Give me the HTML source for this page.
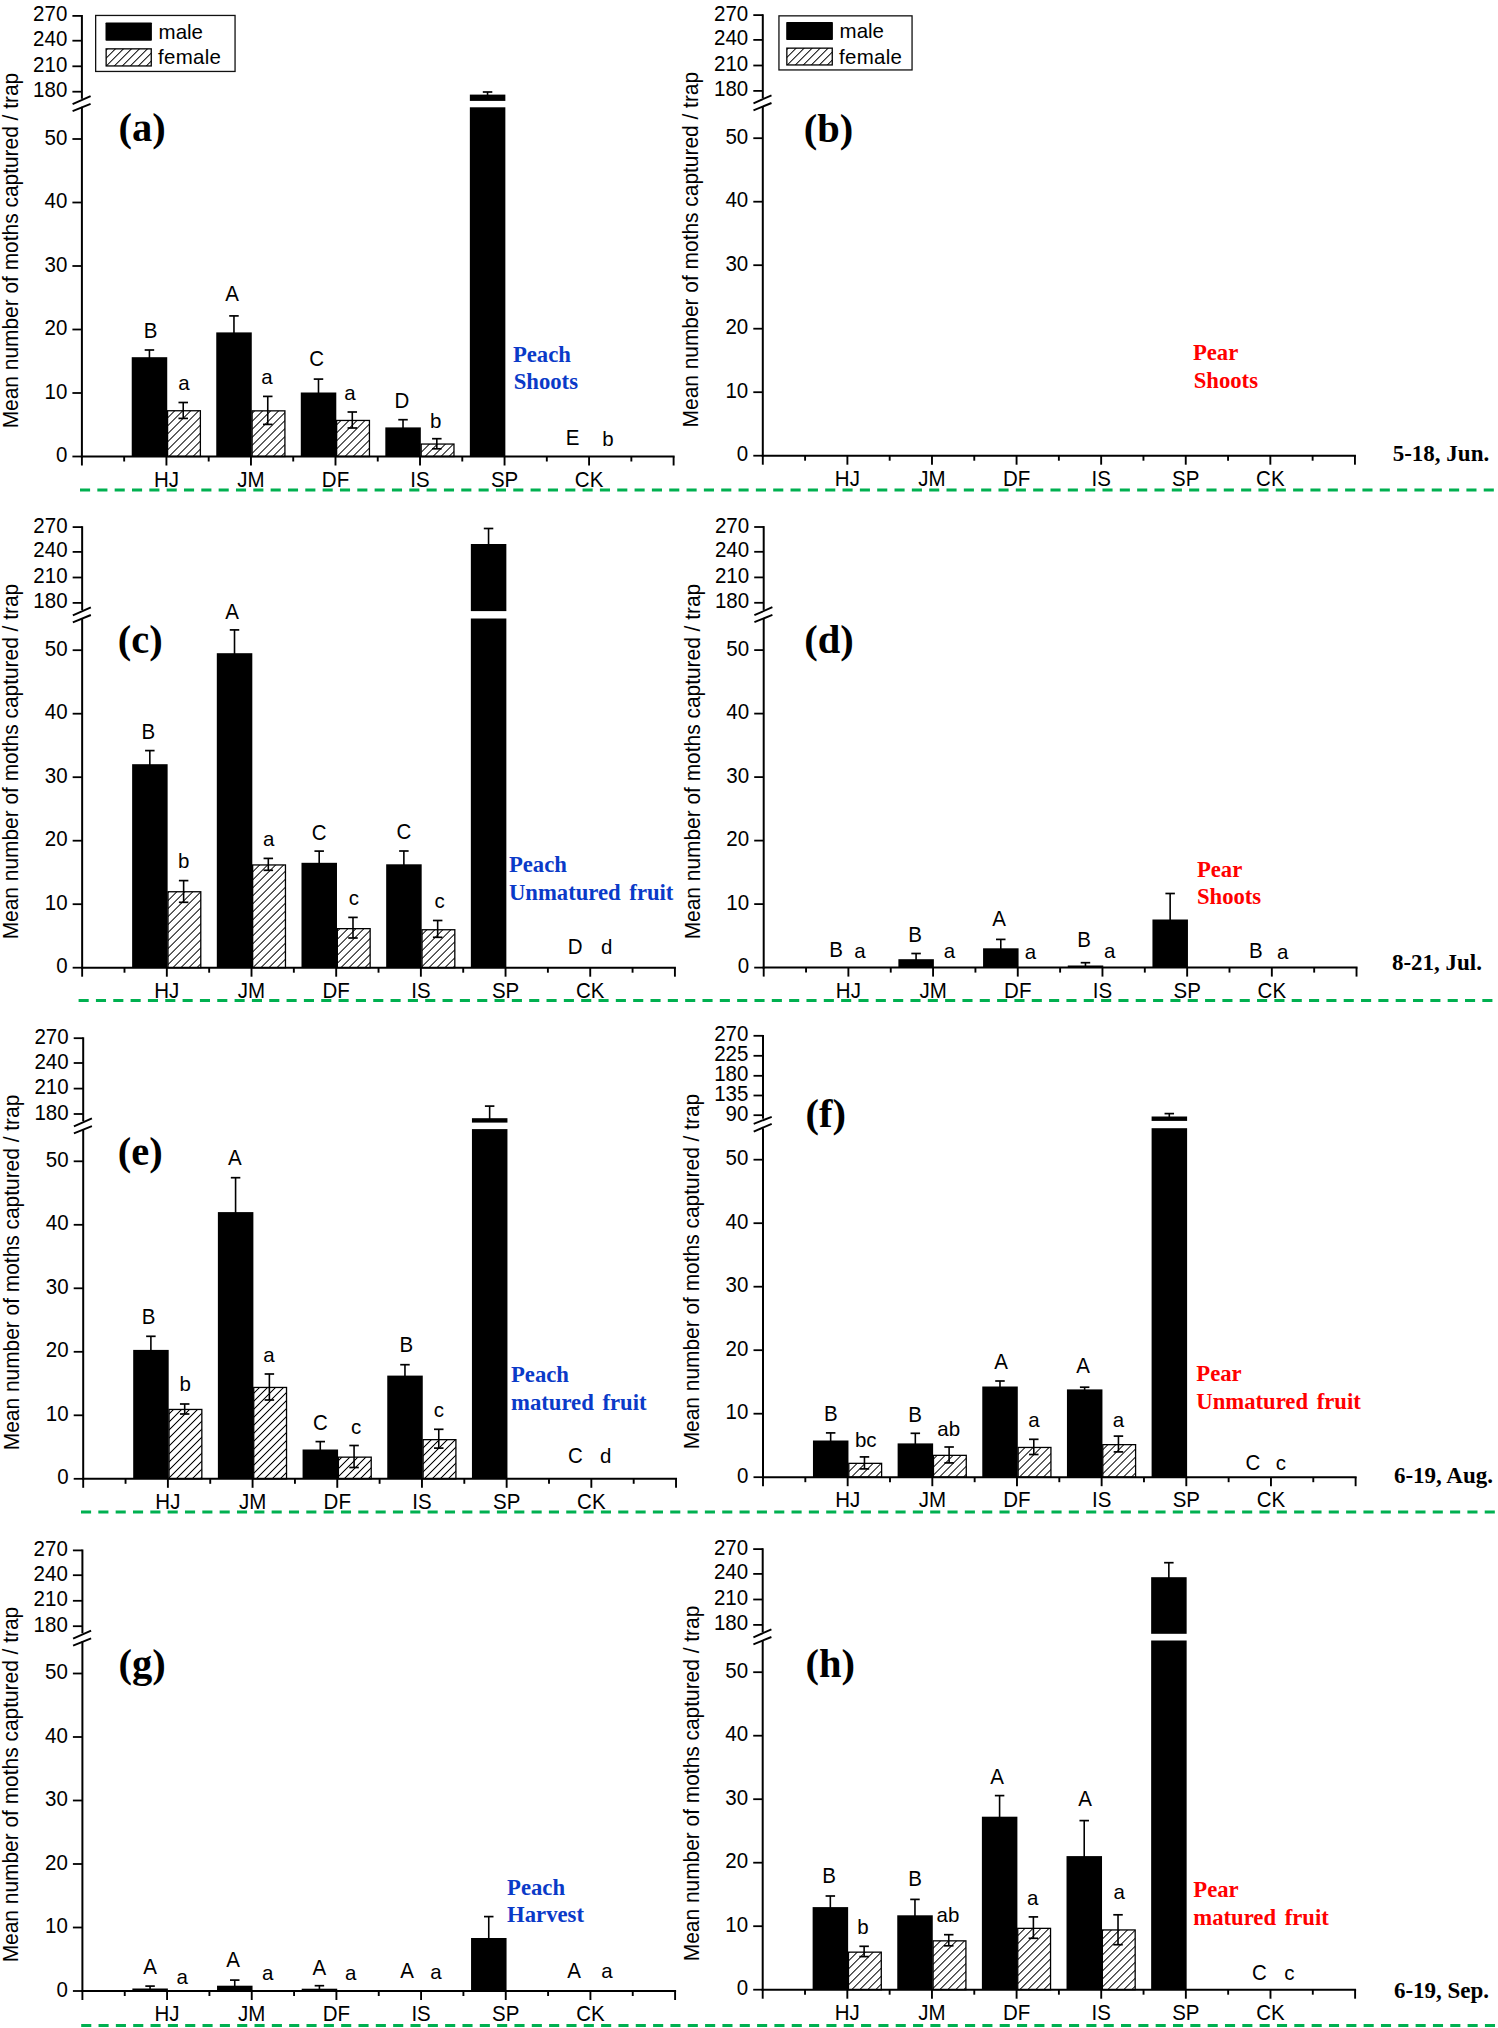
<!DOCTYPE html><html><head><meta charset="utf-8"><style>html,body{margin:0;padding:0;background:#fff;width:1498px;height:2028px;overflow:hidden}svg{display:block}.s{font-family:"Liberation Sans",sans-serif}.r{font-family:"Liberation Serif",serif}</style></head><body>
<svg width="1498" height="2028" viewBox="0 0 1498 2028">
<defs><pattern id="hatch" patternUnits="userSpaceOnUse" width="5.657" height="5.657" patternTransform="translate(0 0) rotate(45)"><line x1="0" y1="-1" x2="0" y2="6.657" stroke="#000" stroke-width="1.9"/></pattern><pattern id="ha" patternUnits="userSpaceOnUse" width="5.657" height="5.657" patternTransform="translate(0.8 0) rotate(45)"><line x1="0" y1="-1" x2="0" y2="6.657" stroke="#000" stroke-width="1.9"/></pattern><pattern id="hc" patternUnits="userSpaceOnUse" width="5.657" height="5.657" patternTransform="translate(3.9 0) rotate(45)"><line x1="0" y1="-1" x2="0" y2="6.657" stroke="#000" stroke-width="1.9"/></pattern><pattern id="he" patternUnits="userSpaceOnUse" width="5.657" height="5.657" patternTransform="translate(6.3 0) rotate(45)"><line x1="0" y1="-1" x2="0" y2="6.657" stroke="#000" stroke-width="1.9"/></pattern><pattern id="hf" patternUnits="userSpaceOnUse" width="5.657" height="5.657" patternTransform="translate(7.8 0) rotate(45)"><line x1="0" y1="-1" x2="0" y2="6.657" stroke="#000" stroke-width="1.9"/></pattern><pattern id="hh" patternUnits="userSpaceOnUse" width="5.657" height="5.657" patternTransform="translate(0.65 0) rotate(45)"><line x1="0" y1="-1" x2="0" y2="6.657" stroke="#000" stroke-width="1.9"/></pattern><pattern id="hl" patternUnits="userSpaceOnUse" width="5.657" height="5.657" patternTransform="translate(3.6 0) rotate(45)"><line x1="0" y1="-1" x2="0" y2="6.657" stroke="#000" stroke-width="1.9"/></pattern></defs>
<rect width="1498" height="2028" fill="#fff"/>
<line x1="81.9" y1="15" x2="81.9" y2="98.8" stroke="#000" stroke-width="2"/>
<line x1="81.9" y1="106.8" x2="81.9" y2="457.5" stroke="#000" stroke-width="2"/>
<line x1="72.6" y1="104.1" x2="90.6" y2="96.1" stroke="#000" stroke-width="1.9"/>
<line x1="72.6" y1="111.1" x2="90.6" y2="103.8" stroke="#000" stroke-width="1.9"/>
<line x1="72.4" y1="15.9" x2="81.9" y2="15.9" stroke="#000" stroke-width="1.8"/>
<text class="s" transform="translate(67.3 21.4) scale(1 1.04)" font-size="20.5" text-anchor="end" fill="#000">270</text>
<line x1="72.4" y1="40.7" x2="81.9" y2="40.7" stroke="#000" stroke-width="1.8"/>
<text class="s" transform="translate(67.3 46.2) scale(1 1.04)" font-size="20.5" text-anchor="end" fill="#000">240</text>
<line x1="72.4" y1="66.3" x2="81.9" y2="66.3" stroke="#000" stroke-width="1.8"/>
<text class="s" transform="translate(67.3 71.8) scale(1 1.04)" font-size="20.5" text-anchor="end" fill="#000">210</text>
<line x1="72.4" y1="91.7" x2="81.9" y2="91.7" stroke="#000" stroke-width="1.8"/>
<text class="s" transform="translate(67.3 97.2) scale(1 1.04)" font-size="20.5" text-anchor="end" fill="#000">180</text>
<line x1="72.4" y1="456.5" x2="81.9" y2="456.5" stroke="#000" stroke-width="1.8"/>
<text class="s" transform="translate(67.3 462) scale(1 1.04)" font-size="20.5" text-anchor="end" fill="#000">0</text>
<line x1="72.4" y1="393" x2="81.9" y2="393" stroke="#000" stroke-width="1.8"/>
<text class="s" transform="translate(67.3 398.5) scale(1 1.04)" font-size="20.5" text-anchor="end" fill="#000">10</text>
<line x1="72.4" y1="329.5" x2="81.9" y2="329.5" stroke="#000" stroke-width="1.8"/>
<text class="s" transform="translate(67.3 335) scale(1 1.04)" font-size="20.5" text-anchor="end" fill="#000">20</text>
<line x1="72.4" y1="266" x2="81.9" y2="266" stroke="#000" stroke-width="1.8"/>
<text class="s" transform="translate(67.3 271.5) scale(1 1.04)" font-size="20.5" text-anchor="end" fill="#000">30</text>
<line x1="72.4" y1="202.5" x2="81.9" y2="202.5" stroke="#000" stroke-width="1.8"/>
<text class="s" transform="translate(67.3 208) scale(1 1.04)" font-size="20.5" text-anchor="end" fill="#000">40</text>
<line x1="72.4" y1="139" x2="81.9" y2="139" stroke="#000" stroke-width="1.8"/>
<text class="s" transform="translate(67.3 144.5) scale(1 1.04)" font-size="20.5" text-anchor="end" fill="#000">50</text>
<line x1="80.9" y1="456.5" x2="674.61" y2="456.5" stroke="#000" stroke-width="2"/>
<line x1="81.9" y1="456.5" x2="81.9" y2="465.5" stroke="#000" stroke-width="1.9"/>
<line x1="166.43" y1="456.5" x2="166.43" y2="465.5" stroke="#000" stroke-width="1.9"/>
<line x1="250.96" y1="456.5" x2="250.96" y2="465.5" stroke="#000" stroke-width="1.9"/>
<line x1="335.49" y1="456.5" x2="335.49" y2="465.5" stroke="#000" stroke-width="1.9"/>
<line x1="420.02" y1="456.5" x2="420.02" y2="465.5" stroke="#000" stroke-width="1.9"/>
<line x1="504.55" y1="456.5" x2="504.55" y2="465.5" stroke="#000" stroke-width="1.9"/>
<line x1="589.08" y1="456.5" x2="589.08" y2="465.5" stroke="#000" stroke-width="1.9"/>
<line x1="673.61" y1="456.5" x2="673.61" y2="465.5" stroke="#000" stroke-width="1.9"/>
<line x1="124.17" y1="456.5" x2="124.17" y2="461.5" stroke="#000" stroke-width="1.9"/>
<line x1="208.69" y1="456.5" x2="208.69" y2="461.5" stroke="#000" stroke-width="1.9"/>
<line x1="293.23" y1="456.5" x2="293.23" y2="461.5" stroke="#000" stroke-width="1.9"/>
<line x1="377.75" y1="456.5" x2="377.75" y2="461.5" stroke="#000" stroke-width="1.9"/>
<line x1="462.28" y1="456.5" x2="462.28" y2="461.5" stroke="#000" stroke-width="1.9"/>
<line x1="546.82" y1="456.5" x2="546.82" y2="461.5" stroke="#000" stroke-width="1.9"/>
<line x1="631.35" y1="456.5" x2="631.35" y2="461.5" stroke="#000" stroke-width="1.9"/>
<text class="s" transform="translate(166.43 486.5) scale(1 1.04)" font-size="20.5" text-anchor="middle" fill="#000">HJ</text>
<text class="s" transform="translate(250.96 486.5) scale(1 1.04)" font-size="20.5" text-anchor="middle" fill="#000">JM</text>
<text class="s" transform="translate(335.49 486.5) scale(1 1.04)" font-size="20.5" text-anchor="middle" fill="#000">DF</text>
<text class="s" transform="translate(420.02 486.5) scale(1 1.04)" font-size="20.5" text-anchor="middle" fill="#000">IS</text>
<text class="s" transform="translate(504.55 486.5) scale(1 1.04)" font-size="20.5" text-anchor="middle" fill="#000">SP</text>
<text class="s" transform="translate(589.08 486.5) scale(1 1.04)" font-size="20.5" text-anchor="middle" fill="#000">CK</text>
<line x1="149.43" y1="350" x2="149.43" y2="358.2" stroke="#000" stroke-width="1.6"/>
<line x1="144.68" y1="350" x2="154.18" y2="350" stroke="#000" stroke-width="1.7"/>
<rect x="131.73" y="357.2" width="35.5" height="99.3" fill="#000"/>
<rect x="167.58" y="410.75" width="32.8" height="45.75" fill="url(#ha)" stroke="#000" stroke-width="1.3"/>
<line x1="183.23" y1="402.5" x2="183.23" y2="418.4" stroke="#000" stroke-width="1.6"/>
<line x1="178.48" y1="402.5" x2="187.98" y2="402.5" stroke="#000" stroke-width="1.7"/>
<line x1="178.48" y1="418.4" x2="187.98" y2="418.4" stroke="#000" stroke-width="1.7"/>
<line x1="233.96" y1="315.9" x2="233.96" y2="333.4" stroke="#000" stroke-width="1.6"/>
<line x1="229.21" y1="315.9" x2="238.71" y2="315.9" stroke="#000" stroke-width="1.7"/>
<rect x="216.26" y="332.4" width="35.5" height="124.1" fill="#000"/>
<rect x="252.11" y="410.85" width="32.8" height="45.65" fill="url(#ha)" stroke="#000" stroke-width="1.3"/>
<line x1="267.76" y1="396.4" x2="267.76" y2="424.4" stroke="#000" stroke-width="1.6"/>
<line x1="263.01" y1="396.4" x2="272.51" y2="396.4" stroke="#000" stroke-width="1.7"/>
<line x1="263.01" y1="424.4" x2="272.51" y2="424.4" stroke="#000" stroke-width="1.7"/>
<line x1="318.49" y1="379.1" x2="318.49" y2="393.5" stroke="#000" stroke-width="1.6"/>
<line x1="313.74" y1="379.1" x2="323.24" y2="379.1" stroke="#000" stroke-width="1.7"/>
<rect x="300.79" y="392.5" width="35.5" height="64" fill="#000"/>
<rect x="336.64" y="420.45" width="32.8" height="36.05" fill="url(#ha)" stroke="#000" stroke-width="1.3"/>
<line x1="352.29" y1="412" x2="352.29" y2="428" stroke="#000" stroke-width="1.6"/>
<line x1="347.54" y1="412" x2="357.04" y2="412" stroke="#000" stroke-width="1.7"/>
<line x1="347.54" y1="428" x2="357.04" y2="428" stroke="#000" stroke-width="1.7"/>
<line x1="403.02" y1="419.7" x2="403.02" y2="428.4" stroke="#000" stroke-width="1.6"/>
<line x1="398.27" y1="419.7" x2="407.77" y2="419.7" stroke="#000" stroke-width="1.7"/>
<rect x="385.32" y="427.4" width="35.5" height="29.1" fill="#000"/>
<rect x="421.17" y="444.05" width="32.8" height="12.45" fill="url(#ha)" stroke="#000" stroke-width="1.3"/>
<line x1="436.82" y1="438.7" x2="436.82" y2="448.8" stroke="#000" stroke-width="1.6"/>
<line x1="432.07" y1="438.7" x2="441.57" y2="438.7" stroke="#000" stroke-width="1.7"/>
<line x1="432.07" y1="448.8" x2="441.57" y2="448.8" stroke="#000" stroke-width="1.7"/>
<line x1="487.55" y1="92" x2="487.55" y2="95.6" stroke="#000" stroke-width="1.6"/>
<line x1="482.8" y1="92" x2="492.3" y2="92" stroke="#000" stroke-width="1.7"/>
<rect x="469.85" y="94.6" width="35.5" height="6.3" fill="#000"/>
<rect x="469.85" y="107.3" width="35.5" height="349.2" fill="#000"/>
<text class="s" transform="translate(150.5 337.9) scale(1 1.04)" font-size="20.5" text-anchor="middle" fill="#000">B</text>
<text class="s" transform="translate(183.9 390.3) scale(1 0.98)" font-size="20.5" text-anchor="middle" fill="#000">a</text>
<text class="s" transform="translate(232 301) scale(1 1.04)" font-size="20.5" text-anchor="middle" fill="#000">A</text>
<text class="s" transform="translate(266.9 383.5) scale(1 0.98)" font-size="20.5" text-anchor="middle" fill="#000">a</text>
<text class="s" transform="translate(316.6 365.5) scale(1 1.04)" font-size="20.5" text-anchor="middle" fill="#000">C</text>
<text class="s" transform="translate(350 400.3) scale(1 0.98)" font-size="20.5" text-anchor="middle" fill="#000">a</text>
<text class="s" transform="translate(402 407.7) scale(1 1.04)" font-size="20.5" text-anchor="middle" fill="#000">D</text>
<text class="s" transform="translate(435.6 428.3) scale(1 0.98)" font-size="20.5" text-anchor="middle" fill="#000">b</text>
<text class="s" transform="translate(572.5 445) scale(1 1.04)" font-size="20.5" text-anchor="middle" fill="#000">E</text>
<text class="s" transform="translate(608 445.6) scale(1 0.98)" font-size="20.5" text-anchor="middle" fill="#000">b</text>
<text class="r" x="512.9" y="361.9" font-size="22.7" text-anchor="start" fill="#0a3ac8" font-weight="bold" word-spacing="3">Peach</text>
<text class="r" x="513.7" y="389.1" font-size="22.7" text-anchor="start" fill="#0a3ac8" font-weight="bold" word-spacing="3">Shoots</text>
<text class="r" x="118.4" y="141.4" font-size="40.5" text-anchor="start" fill="#000" font-weight="bold">(a)</text>
<text class="s" font-size="20.8" text-anchor="middle" transform="translate(17.9 250.55) rotate(-90) scale(1 1.02)" textLength="355.5" lengthAdjust="spacingAndGlyphs">Mean number of moths captured / trap</text>
<line x1="762.8" y1="14.2" x2="762.8" y2="98" stroke="#000" stroke-width="2"/>
<line x1="762.8" y1="106" x2="762.8" y2="456.7" stroke="#000" stroke-width="2"/>
<line x1="753.5" y1="103.3" x2="771.5" y2="95.3" stroke="#000" stroke-width="1.9"/>
<line x1="753.5" y1="110.3" x2="771.5" y2="103" stroke="#000" stroke-width="1.9"/>
<line x1="753.3" y1="15.1" x2="762.8" y2="15.1" stroke="#000" stroke-width="1.8"/>
<text class="s" transform="translate(748.2 20.6) scale(1 1.04)" font-size="20.5" text-anchor="end" fill="#000">270</text>
<line x1="753.3" y1="39.9" x2="762.8" y2="39.9" stroke="#000" stroke-width="1.8"/>
<text class="s" transform="translate(748.2 45.4) scale(1 1.04)" font-size="20.5" text-anchor="end" fill="#000">240</text>
<line x1="753.3" y1="65.5" x2="762.8" y2="65.5" stroke="#000" stroke-width="1.8"/>
<text class="s" transform="translate(748.2 71) scale(1 1.04)" font-size="20.5" text-anchor="end" fill="#000">210</text>
<line x1="753.3" y1="90.9" x2="762.8" y2="90.9" stroke="#000" stroke-width="1.8"/>
<text class="s" transform="translate(748.2 96.4) scale(1 1.04)" font-size="20.5" text-anchor="end" fill="#000">180</text>
<line x1="753.3" y1="455.7" x2="762.8" y2="455.7" stroke="#000" stroke-width="1.8"/>
<text class="s" transform="translate(748.2 461.2) scale(1 1.04)" font-size="20.5" text-anchor="end" fill="#000">0</text>
<line x1="753.3" y1="392.2" x2="762.8" y2="392.2" stroke="#000" stroke-width="1.8"/>
<text class="s" transform="translate(748.2 397.7) scale(1 1.04)" font-size="20.5" text-anchor="end" fill="#000">10</text>
<line x1="753.3" y1="328.7" x2="762.8" y2="328.7" stroke="#000" stroke-width="1.8"/>
<text class="s" transform="translate(748.2 334.2) scale(1 1.04)" font-size="20.5" text-anchor="end" fill="#000">20</text>
<line x1="753.3" y1="265.2" x2="762.8" y2="265.2" stroke="#000" stroke-width="1.8"/>
<text class="s" transform="translate(748.2 270.7) scale(1 1.04)" font-size="20.5" text-anchor="end" fill="#000">30</text>
<line x1="753.3" y1="201.7" x2="762.8" y2="201.7" stroke="#000" stroke-width="1.8"/>
<text class="s" transform="translate(748.2 207.2) scale(1 1.04)" font-size="20.5" text-anchor="end" fill="#000">40</text>
<line x1="753.3" y1="138.2" x2="762.8" y2="138.2" stroke="#000" stroke-width="1.8"/>
<text class="s" transform="translate(748.2 143.7) scale(1 1.04)" font-size="20.5" text-anchor="end" fill="#000">50</text>
<line x1="761.8" y1="455.7" x2="1355.93" y2="455.7" stroke="#000" stroke-width="2"/>
<line x1="762.8" y1="455.7" x2="762.8" y2="464.7" stroke="#000" stroke-width="1.9"/>
<line x1="847.39" y1="455.7" x2="847.39" y2="464.7" stroke="#000" stroke-width="1.9"/>
<line x1="931.98" y1="455.7" x2="931.98" y2="464.7" stroke="#000" stroke-width="1.9"/>
<line x1="1016.57" y1="455.7" x2="1016.57" y2="464.7" stroke="#000" stroke-width="1.9"/>
<line x1="1101.16" y1="455.7" x2="1101.16" y2="464.7" stroke="#000" stroke-width="1.9"/>
<line x1="1185.75" y1="455.7" x2="1185.75" y2="464.7" stroke="#000" stroke-width="1.9"/>
<line x1="1270.34" y1="455.7" x2="1270.34" y2="464.7" stroke="#000" stroke-width="1.9"/>
<line x1="1354.93" y1="455.7" x2="1354.93" y2="464.7" stroke="#000" stroke-width="1.9"/>
<line x1="805.09" y1="455.7" x2="805.09" y2="460.7" stroke="#000" stroke-width="1.9"/>
<line x1="889.68" y1="455.7" x2="889.68" y2="460.7" stroke="#000" stroke-width="1.9"/>
<line x1="974.27" y1="455.7" x2="974.27" y2="460.7" stroke="#000" stroke-width="1.9"/>
<line x1="1058.87" y1="455.7" x2="1058.87" y2="460.7" stroke="#000" stroke-width="1.9"/>
<line x1="1143.45" y1="455.7" x2="1143.45" y2="460.7" stroke="#000" stroke-width="1.9"/>
<line x1="1228.05" y1="455.7" x2="1228.05" y2="460.7" stroke="#000" stroke-width="1.9"/>
<line x1="1312.63" y1="455.7" x2="1312.63" y2="460.7" stroke="#000" stroke-width="1.9"/>
<text class="s" transform="translate(847.39 485.7) scale(1 1.04)" font-size="20.5" text-anchor="middle" fill="#000">HJ</text>
<text class="s" transform="translate(931.98 485.7) scale(1 1.04)" font-size="20.5" text-anchor="middle" fill="#000">JM</text>
<text class="s" transform="translate(1016.57 485.7) scale(1 1.04)" font-size="20.5" text-anchor="middle" fill="#000">DF</text>
<text class="s" transform="translate(1101.16 485.7) scale(1 1.04)" font-size="20.5" text-anchor="middle" fill="#000">IS</text>
<text class="s" transform="translate(1185.75 485.7) scale(1 1.04)" font-size="20.5" text-anchor="middle" fill="#000">SP</text>
<text class="s" transform="translate(1270.34 485.7) scale(1 1.04)" font-size="20.5" text-anchor="middle" fill="#000">CK</text>
<text class="r" x="1192.9" y="360" font-size="22.7" text-anchor="start" fill="#ff0000" font-weight="bold" word-spacing="3">Pear</text>
<text class="r" x="1193.7" y="388.1" font-size="22.7" text-anchor="start" fill="#ff0000" font-weight="bold" word-spacing="3">Shoots</text>
<text class="r" x="803.8" y="142.3" font-size="40.5" text-anchor="start" fill="#000" font-weight="bold">(b)</text>
<text class="s" font-size="20.8" text-anchor="middle" transform="translate(698 249.65) rotate(-90) scale(1 1.02)" textLength="355.5" lengthAdjust="spacingAndGlyphs">Mean number of moths captured / trap</text>
<line x1="82.15" y1="526.2" x2="82.15" y2="610" stroke="#000" stroke-width="2"/>
<line x1="82.15" y1="618" x2="82.15" y2="968.7" stroke="#000" stroke-width="2"/>
<line x1="72.85" y1="615.3" x2="90.85" y2="607.3" stroke="#000" stroke-width="1.9"/>
<line x1="72.85" y1="622.3" x2="90.85" y2="615" stroke="#000" stroke-width="1.9"/>
<line x1="72.65" y1="527.1" x2="82.15" y2="527.1" stroke="#000" stroke-width="1.8"/>
<text class="s" transform="translate(67.55 532.6) scale(1 1.04)" font-size="20.5" text-anchor="end" fill="#000">270</text>
<line x1="72.65" y1="551.9" x2="82.15" y2="551.9" stroke="#000" stroke-width="1.8"/>
<text class="s" transform="translate(67.55 557.4) scale(1 1.04)" font-size="20.5" text-anchor="end" fill="#000">240</text>
<line x1="72.65" y1="577.5" x2="82.15" y2="577.5" stroke="#000" stroke-width="1.8"/>
<text class="s" transform="translate(67.55 583) scale(1 1.04)" font-size="20.5" text-anchor="end" fill="#000">210</text>
<line x1="72.65" y1="602.9" x2="82.15" y2="602.9" stroke="#000" stroke-width="1.8"/>
<text class="s" transform="translate(67.55 608.4) scale(1 1.04)" font-size="20.5" text-anchor="end" fill="#000">180</text>
<line x1="72.65" y1="967.7" x2="82.15" y2="967.7" stroke="#000" stroke-width="1.8"/>
<text class="s" transform="translate(67.55 973.2) scale(1 1.04)" font-size="20.5" text-anchor="end" fill="#000">0</text>
<line x1="72.65" y1="904.2" x2="82.15" y2="904.2" stroke="#000" stroke-width="1.8"/>
<text class="s" transform="translate(67.55 909.7) scale(1 1.04)" font-size="20.5" text-anchor="end" fill="#000">10</text>
<line x1="72.65" y1="840.7" x2="82.15" y2="840.7" stroke="#000" stroke-width="1.8"/>
<text class="s" transform="translate(67.55 846.2) scale(1 1.04)" font-size="20.5" text-anchor="end" fill="#000">20</text>
<line x1="72.65" y1="777.2" x2="82.15" y2="777.2" stroke="#000" stroke-width="1.8"/>
<text class="s" transform="translate(67.55 782.7) scale(1 1.04)" font-size="20.5" text-anchor="end" fill="#000">30</text>
<line x1="72.65" y1="713.7" x2="82.15" y2="713.7" stroke="#000" stroke-width="1.8"/>
<text class="s" transform="translate(67.55 719.2) scale(1 1.04)" font-size="20.5" text-anchor="end" fill="#000">40</text>
<line x1="72.65" y1="650.2" x2="82.15" y2="650.2" stroke="#000" stroke-width="1.8"/>
<text class="s" transform="translate(67.55 655.7) scale(1 1.04)" font-size="20.5" text-anchor="end" fill="#000">50</text>
<line x1="81.15" y1="967.7" x2="675.91" y2="967.7" stroke="#000" stroke-width="2"/>
<line x1="82.15" y1="967.7" x2="82.15" y2="976.7" stroke="#000" stroke-width="1.9"/>
<line x1="166.83" y1="967.7" x2="166.83" y2="976.7" stroke="#000" stroke-width="1.9"/>
<line x1="251.51" y1="967.7" x2="251.51" y2="976.7" stroke="#000" stroke-width="1.9"/>
<line x1="336.19" y1="967.7" x2="336.19" y2="976.7" stroke="#000" stroke-width="1.9"/>
<line x1="420.87" y1="967.7" x2="420.87" y2="976.7" stroke="#000" stroke-width="1.9"/>
<line x1="505.55" y1="967.7" x2="505.55" y2="976.7" stroke="#000" stroke-width="1.9"/>
<line x1="590.23" y1="967.7" x2="590.23" y2="976.7" stroke="#000" stroke-width="1.9"/>
<line x1="674.91" y1="967.7" x2="674.91" y2="976.7" stroke="#000" stroke-width="1.9"/>
<line x1="124.49" y1="967.7" x2="124.49" y2="972.7" stroke="#000" stroke-width="1.9"/>
<line x1="209.17" y1="967.7" x2="209.17" y2="972.7" stroke="#000" stroke-width="1.9"/>
<line x1="293.85" y1="967.7" x2="293.85" y2="972.7" stroke="#000" stroke-width="1.9"/>
<line x1="378.53" y1="967.7" x2="378.53" y2="972.7" stroke="#000" stroke-width="1.9"/>
<line x1="463.21" y1="967.7" x2="463.21" y2="972.7" stroke="#000" stroke-width="1.9"/>
<line x1="547.89" y1="967.7" x2="547.89" y2="972.7" stroke="#000" stroke-width="1.9"/>
<line x1="632.57" y1="967.7" x2="632.57" y2="972.7" stroke="#000" stroke-width="1.9"/>
<text class="s" transform="translate(166.83 997.7) scale(1 1.04)" font-size="20.5" text-anchor="middle" fill="#000">HJ</text>
<text class="s" transform="translate(251.51 997.7) scale(1 1.04)" font-size="20.5" text-anchor="middle" fill="#000">JM</text>
<text class="s" transform="translate(336.19 997.7) scale(1 1.04)" font-size="20.5" text-anchor="middle" fill="#000">DF</text>
<text class="s" transform="translate(420.87 997.7) scale(1 1.04)" font-size="20.5" text-anchor="middle" fill="#000">IS</text>
<text class="s" transform="translate(505.55 997.7) scale(1 1.04)" font-size="20.5" text-anchor="middle" fill="#000">SP</text>
<text class="s" transform="translate(590.23 997.7) scale(1 1.04)" font-size="20.5" text-anchor="middle" fill="#000">CK</text>
<line x1="149.83" y1="750.6" x2="149.83" y2="765.2" stroke="#000" stroke-width="1.6"/>
<line x1="145.08" y1="750.6" x2="154.58" y2="750.6" stroke="#000" stroke-width="1.7"/>
<rect x="132.13" y="764.2" width="35.5" height="203.5" fill="#000"/>
<rect x="167.98" y="891.75" width="32.8" height="75.95" fill="url(#hc)" stroke="#000" stroke-width="1.3"/>
<line x1="183.63" y1="880.6" x2="183.63" y2="902.3" stroke="#000" stroke-width="1.6"/>
<line x1="178.88" y1="880.6" x2="188.38" y2="880.6" stroke="#000" stroke-width="1.7"/>
<line x1="178.88" y1="902.3" x2="188.38" y2="902.3" stroke="#000" stroke-width="1.7"/>
<line x1="234.51" y1="629.9" x2="234.51" y2="654.2" stroke="#000" stroke-width="1.6"/>
<line x1="229.76" y1="629.9" x2="239.26" y2="629.9" stroke="#000" stroke-width="1.7"/>
<rect x="216.81" y="653.2" width="35.5" height="314.5" fill="#000"/>
<rect x="252.66" y="864.95" width="32.8" height="102.75" fill="url(#hc)" stroke="#000" stroke-width="1.3"/>
<line x1="268.31" y1="858.4" x2="268.31" y2="870.3" stroke="#000" stroke-width="1.6"/>
<line x1="263.56" y1="858.4" x2="273.06" y2="858.4" stroke="#000" stroke-width="1.7"/>
<line x1="263.56" y1="870.3" x2="273.06" y2="870.3" stroke="#000" stroke-width="1.7"/>
<line x1="319.19" y1="851.1" x2="319.19" y2="863.8" stroke="#000" stroke-width="1.6"/>
<line x1="314.44" y1="851.1" x2="323.94" y2="851.1" stroke="#000" stroke-width="1.7"/>
<rect x="301.49" y="862.8" width="35.5" height="104.9" fill="#000"/>
<rect x="337.34" y="928.65" width="32.8" height="39.05" fill="url(#hc)" stroke="#000" stroke-width="1.3"/>
<line x1="352.99" y1="917.4" x2="352.99" y2="938" stroke="#000" stroke-width="1.6"/>
<line x1="348.24" y1="917.4" x2="357.74" y2="917.4" stroke="#000" stroke-width="1.7"/>
<line x1="348.24" y1="938" x2="357.74" y2="938" stroke="#000" stroke-width="1.7"/>
<line x1="403.87" y1="851" x2="403.87" y2="865.3" stroke="#000" stroke-width="1.6"/>
<line x1="399.12" y1="851" x2="408.62" y2="851" stroke="#000" stroke-width="1.7"/>
<rect x="386.17" y="864.3" width="35.5" height="103.4" fill="#000"/>
<rect x="422.02" y="929.75" width="32.8" height="37.95" fill="url(#hc)" stroke="#000" stroke-width="1.3"/>
<line x1="437.67" y1="920.5" x2="437.67" y2="937.3" stroke="#000" stroke-width="1.6"/>
<line x1="432.92" y1="920.5" x2="442.42" y2="920.5" stroke="#000" stroke-width="1.7"/>
<line x1="432.92" y1="937.3" x2="442.42" y2="937.3" stroke="#000" stroke-width="1.7"/>
<line x1="488.55" y1="528.5" x2="488.55" y2="545" stroke="#000" stroke-width="1.6"/>
<line x1="483.8" y1="528.5" x2="493.3" y2="528.5" stroke="#000" stroke-width="1.7"/>
<rect x="470.85" y="544" width="35.5" height="67.1" fill="#000"/>
<rect x="470.85" y="618.5" width="35.5" height="349.2" fill="#000"/>
<text class="s" transform="translate(148.3 739.1) scale(1 1.04)" font-size="20.5" text-anchor="middle" fill="#000">B</text>
<text class="s" transform="translate(183.7 868.1) scale(1 0.98)" font-size="20.5" text-anchor="middle" fill="#000">b</text>
<text class="s" transform="translate(232 619.2) scale(1 1.04)" font-size="20.5" text-anchor="middle" fill="#000">A</text>
<text class="s" transform="translate(268.6 846.3) scale(1 0.98)" font-size="20.5" text-anchor="middle" fill="#000">a</text>
<text class="s" transform="translate(319.1 839.6) scale(1 1.04)" font-size="20.5" text-anchor="middle" fill="#000">C</text>
<text class="s" transform="translate(353.9 904.9) scale(1 0.98)" font-size="20.5" text-anchor="middle" fill="#000">c</text>
<text class="s" transform="translate(403.8 839.1) scale(1 1.04)" font-size="20.5" text-anchor="middle" fill="#000">C</text>
<text class="s" transform="translate(439.5 908.3) scale(1 0.98)" font-size="20.5" text-anchor="middle" fill="#000">c</text>
<text class="s" transform="translate(575.1 953.8) scale(1 1.04)" font-size="20.5" text-anchor="middle" fill="#000">D</text>
<text class="s" transform="translate(606.7 954.4) scale(1 0.98)" font-size="20.5" text-anchor="middle" fill="#000">d</text>
<text class="r" x="508.9" y="872.4" font-size="22.7" text-anchor="start" fill="#0a3ac8" font-weight="bold" word-spacing="3">Peach</text>
<text class="r" x="508.9" y="899.5" font-size="22.7" text-anchor="start" fill="#0a3ac8" font-weight="bold" word-spacing="3">Unmatured fruit</text>
<text class="r" x="117.8" y="652.8" font-size="40.5" text-anchor="start" fill="#000" font-weight="bold">(c)</text>
<text class="s" font-size="20.8" text-anchor="middle" transform="translate(17.9 761.55) rotate(-90) scale(1 1.02)" textLength="355.5" lengthAdjust="spacingAndGlyphs">Mean number of moths captured / trap</text>
<line x1="763.7" y1="526.1" x2="763.7" y2="609.9" stroke="#000" stroke-width="2"/>
<line x1="763.7" y1="617.9" x2="763.7" y2="968.6" stroke="#000" stroke-width="2"/>
<line x1="754.4" y1="615.2" x2="772.4" y2="607.2" stroke="#000" stroke-width="1.9"/>
<line x1="754.4" y1="622.2" x2="772.4" y2="614.9" stroke="#000" stroke-width="1.9"/>
<line x1="754.2" y1="527" x2="763.7" y2="527" stroke="#000" stroke-width="1.8"/>
<text class="s" transform="translate(749.1 532.5) scale(1 1.04)" font-size="20.5" text-anchor="end" fill="#000">270</text>
<line x1="754.2" y1="551.8" x2="763.7" y2="551.8" stroke="#000" stroke-width="1.8"/>
<text class="s" transform="translate(749.1 557.3) scale(1 1.04)" font-size="20.5" text-anchor="end" fill="#000">240</text>
<line x1="754.2" y1="577.4" x2="763.7" y2="577.4" stroke="#000" stroke-width="1.8"/>
<text class="s" transform="translate(749.1 582.9) scale(1 1.04)" font-size="20.5" text-anchor="end" fill="#000">210</text>
<line x1="754.2" y1="602.8" x2="763.7" y2="602.8" stroke="#000" stroke-width="1.8"/>
<text class="s" transform="translate(749.1 608.3) scale(1 1.04)" font-size="20.5" text-anchor="end" fill="#000">180</text>
<line x1="754.2" y1="967.6" x2="763.7" y2="967.6" stroke="#000" stroke-width="1.8"/>
<text class="s" transform="translate(749.1 973.1) scale(1 1.04)" font-size="20.5" text-anchor="end" fill="#000">0</text>
<line x1="754.2" y1="904.1" x2="763.7" y2="904.1" stroke="#000" stroke-width="1.8"/>
<text class="s" transform="translate(749.1 909.6) scale(1 1.04)" font-size="20.5" text-anchor="end" fill="#000">10</text>
<line x1="754.2" y1="840.6" x2="763.7" y2="840.6" stroke="#000" stroke-width="1.8"/>
<text class="s" transform="translate(749.1 846.1) scale(1 1.04)" font-size="20.5" text-anchor="end" fill="#000">20</text>
<line x1="754.2" y1="777.1" x2="763.7" y2="777.1" stroke="#000" stroke-width="1.8"/>
<text class="s" transform="translate(749.1 782.6) scale(1 1.04)" font-size="20.5" text-anchor="end" fill="#000">30</text>
<line x1="754.2" y1="713.6" x2="763.7" y2="713.6" stroke="#000" stroke-width="1.8"/>
<text class="s" transform="translate(749.1 719.1) scale(1 1.04)" font-size="20.5" text-anchor="end" fill="#000">40</text>
<line x1="754.2" y1="650.1" x2="763.7" y2="650.1" stroke="#000" stroke-width="1.8"/>
<text class="s" transform="translate(749.1 655.6) scale(1 1.04)" font-size="20.5" text-anchor="end" fill="#000">50</text>
<line x1="762.7" y1="967.6" x2="1357.53" y2="967.6" stroke="#000" stroke-width="2"/>
<line x1="763.7" y1="967.6" x2="763.7" y2="976.6" stroke="#000" stroke-width="1.9"/>
<line x1="848.39" y1="967.6" x2="848.39" y2="976.6" stroke="#000" stroke-width="1.9"/>
<line x1="933.08" y1="967.6" x2="933.08" y2="976.6" stroke="#000" stroke-width="1.9"/>
<line x1="1017.77" y1="967.6" x2="1017.77" y2="976.6" stroke="#000" stroke-width="1.9"/>
<line x1="1102.46" y1="967.6" x2="1102.46" y2="976.6" stroke="#000" stroke-width="1.9"/>
<line x1="1187.15" y1="967.6" x2="1187.15" y2="976.6" stroke="#000" stroke-width="1.9"/>
<line x1="1271.84" y1="967.6" x2="1271.84" y2="976.6" stroke="#000" stroke-width="1.9"/>
<line x1="1356.53" y1="967.6" x2="1356.53" y2="976.6" stroke="#000" stroke-width="1.9"/>
<line x1="806.05" y1="967.6" x2="806.05" y2="972.6" stroke="#000" stroke-width="1.9"/>
<line x1="890.74" y1="967.6" x2="890.74" y2="972.6" stroke="#000" stroke-width="1.9"/>
<line x1="975.43" y1="967.6" x2="975.43" y2="972.6" stroke="#000" stroke-width="1.9"/>
<line x1="1060.12" y1="967.6" x2="1060.12" y2="972.6" stroke="#000" stroke-width="1.9"/>
<line x1="1144.81" y1="967.6" x2="1144.81" y2="972.6" stroke="#000" stroke-width="1.9"/>
<line x1="1229.49" y1="967.6" x2="1229.49" y2="972.6" stroke="#000" stroke-width="1.9"/>
<line x1="1314.18" y1="967.6" x2="1314.18" y2="972.6" stroke="#000" stroke-width="1.9"/>
<text class="s" transform="translate(848.39 997.6) scale(1 1.04)" font-size="20.5" text-anchor="middle" fill="#000">HJ</text>
<text class="s" transform="translate(933.08 997.6) scale(1 1.04)" font-size="20.5" text-anchor="middle" fill="#000">JM</text>
<text class="s" transform="translate(1017.77 997.6) scale(1 1.04)" font-size="20.5" text-anchor="middle" fill="#000">DF</text>
<text class="s" transform="translate(1102.46 997.6) scale(1 1.04)" font-size="20.5" text-anchor="middle" fill="#000">IS</text>
<text class="s" transform="translate(1187.15 997.6) scale(1 1.04)" font-size="20.5" text-anchor="middle" fill="#000">SP</text>
<text class="s" transform="translate(1271.84 997.6) scale(1 1.04)" font-size="20.5" text-anchor="middle" fill="#000">CK</text>
<line x1="916.08" y1="953.5" x2="916.08" y2="960.2" stroke="#000" stroke-width="1.6"/>
<line x1="911.33" y1="953.5" x2="920.83" y2="953.5" stroke="#000" stroke-width="1.7"/>
<rect x="898.38" y="959.2" width="35.5" height="8.4" fill="#000"/>
<line x1="1000.77" y1="939.4" x2="1000.77" y2="949.3" stroke="#000" stroke-width="1.6"/>
<line x1="996.02" y1="939.4" x2="1005.52" y2="939.4" stroke="#000" stroke-width="1.7"/>
<rect x="983.07" y="948.3" width="35.5" height="19.3" fill="#000"/>
<line x1="1085.46" y1="962.7" x2="1085.46" y2="966.5" stroke="#000" stroke-width="1.6"/>
<line x1="1080.71" y1="962.7" x2="1090.21" y2="962.7" stroke="#000" stroke-width="1.7"/>
<rect x="1067.76" y="965.5" width="35.5" height="2.1" fill="#000"/>
<line x1="1170.15" y1="893.5" x2="1170.15" y2="920.5" stroke="#000" stroke-width="1.6"/>
<line x1="1165.4" y1="893.5" x2="1174.9" y2="893.5" stroke="#000" stroke-width="1.7"/>
<rect x="1152.45" y="919.5" width="35.5" height="48.1" fill="#000"/>
<text class="s" transform="translate(836 956.9) scale(1 1.04)" font-size="20.5" text-anchor="middle" fill="#000">B</text>
<text class="s" transform="translate(859.9 957.5) scale(1 0.98)" font-size="20.5" text-anchor="middle" fill="#000">a</text>
<text class="s" transform="translate(915 942.1) scale(1 1.04)" font-size="20.5" text-anchor="middle" fill="#000">B</text>
<text class="s" transform="translate(949.5 958.2) scale(1 0.98)" font-size="20.5" text-anchor="middle" fill="#000">a</text>
<text class="s" transform="translate(999 925.8) scale(1 1.04)" font-size="20.5" text-anchor="middle" fill="#000">A</text>
<text class="s" transform="translate(1030.5 959.1) scale(1 0.98)" font-size="20.5" text-anchor="middle" fill="#000">a</text>
<text class="s" transform="translate(1084 946.7) scale(1 1.04)" font-size="20.5" text-anchor="middle" fill="#000">B</text>
<text class="s" transform="translate(1109.7 957.6) scale(1 0.98)" font-size="20.5" text-anchor="middle" fill="#000">a</text>
<text class="s" transform="translate(1255.9 958.4) scale(1 1.04)" font-size="20.5" text-anchor="middle" fill="#000">B</text>
<text class="s" transform="translate(1282.8 959) scale(1 0.98)" font-size="20.5" text-anchor="middle" fill="#000">a</text>
<text class="r" x="1196.9" y="876.5" font-size="22.7" text-anchor="start" fill="#ff0000" font-weight="bold" word-spacing="3">Pear</text>
<text class="r" x="1196.9" y="903.5" font-size="22.7" text-anchor="start" fill="#ff0000" font-weight="bold" word-spacing="3">Shoots</text>
<text class="r" x="804.3" y="652.6" font-size="40.5" text-anchor="start" fill="#000" font-weight="bold">(d)</text>
<text class="s" font-size="20.8" text-anchor="middle" transform="translate(700 761.55) rotate(-90) scale(1 1.02)" textLength="355.5" lengthAdjust="spacingAndGlyphs">Mean number of moths captured / trap</text>
<line x1="83.2" y1="1037.3" x2="83.2" y2="1121.1" stroke="#000" stroke-width="2"/>
<line x1="83.2" y1="1129.1" x2="83.2" y2="1479.8" stroke="#000" stroke-width="2"/>
<line x1="73.9" y1="1126.4" x2="91.9" y2="1118.4" stroke="#000" stroke-width="1.9"/>
<line x1="73.9" y1="1133.4" x2="91.9" y2="1126.1" stroke="#000" stroke-width="1.9"/>
<line x1="73.7" y1="1038.2" x2="83.2" y2="1038.2" stroke="#000" stroke-width="1.8"/>
<text class="s" transform="translate(68.6 1043.7) scale(1 1.04)" font-size="20.5" text-anchor="end" fill="#000">270</text>
<line x1="73.7" y1="1063" x2="83.2" y2="1063" stroke="#000" stroke-width="1.8"/>
<text class="s" transform="translate(68.6 1068.5) scale(1 1.04)" font-size="20.5" text-anchor="end" fill="#000">240</text>
<line x1="73.7" y1="1088.6" x2="83.2" y2="1088.6" stroke="#000" stroke-width="1.8"/>
<text class="s" transform="translate(68.6 1094.1) scale(1 1.04)" font-size="20.5" text-anchor="end" fill="#000">210</text>
<line x1="73.7" y1="1114" x2="83.2" y2="1114" stroke="#000" stroke-width="1.8"/>
<text class="s" transform="translate(68.6 1119.5) scale(1 1.04)" font-size="20.5" text-anchor="end" fill="#000">180</text>
<line x1="73.7" y1="1478.8" x2="83.2" y2="1478.8" stroke="#000" stroke-width="1.8"/>
<text class="s" transform="translate(68.6 1484.3) scale(1 1.04)" font-size="20.5" text-anchor="end" fill="#000">0</text>
<line x1="73.7" y1="1415.3" x2="83.2" y2="1415.3" stroke="#000" stroke-width="1.8"/>
<text class="s" transform="translate(68.6 1420.8) scale(1 1.04)" font-size="20.5" text-anchor="end" fill="#000">10</text>
<line x1="73.7" y1="1351.8" x2="83.2" y2="1351.8" stroke="#000" stroke-width="1.8"/>
<text class="s" transform="translate(68.6 1357.3) scale(1 1.04)" font-size="20.5" text-anchor="end" fill="#000">20</text>
<line x1="73.7" y1="1288.3" x2="83.2" y2="1288.3" stroke="#000" stroke-width="1.8"/>
<text class="s" transform="translate(68.6 1293.8) scale(1 1.04)" font-size="20.5" text-anchor="end" fill="#000">30</text>
<line x1="73.7" y1="1224.8" x2="83.2" y2="1224.8" stroke="#000" stroke-width="1.8"/>
<text class="s" transform="translate(68.6 1230.3) scale(1 1.04)" font-size="20.5" text-anchor="end" fill="#000">40</text>
<line x1="73.7" y1="1161.3" x2="83.2" y2="1161.3" stroke="#000" stroke-width="1.8"/>
<text class="s" transform="translate(68.6 1166.8) scale(1 1.04)" font-size="20.5" text-anchor="end" fill="#000">50</text>
<line x1="82.2" y1="1478.8" x2="677.03" y2="1478.8" stroke="#000" stroke-width="2"/>
<line x1="83.2" y1="1478.8" x2="83.2" y2="1487.8" stroke="#000" stroke-width="1.9"/>
<line x1="167.89" y1="1478.8" x2="167.89" y2="1487.8" stroke="#000" stroke-width="1.9"/>
<line x1="252.58" y1="1478.8" x2="252.58" y2="1487.8" stroke="#000" stroke-width="1.9"/>
<line x1="337.27" y1="1478.8" x2="337.27" y2="1487.8" stroke="#000" stroke-width="1.9"/>
<line x1="421.96" y1="1478.8" x2="421.96" y2="1487.8" stroke="#000" stroke-width="1.9"/>
<line x1="506.65" y1="1478.8" x2="506.65" y2="1487.8" stroke="#000" stroke-width="1.9"/>
<line x1="591.34" y1="1478.8" x2="591.34" y2="1487.8" stroke="#000" stroke-width="1.9"/>
<line x1="676.03" y1="1478.8" x2="676.03" y2="1487.8" stroke="#000" stroke-width="1.9"/>
<line x1="125.55" y1="1478.8" x2="125.55" y2="1483.8" stroke="#000" stroke-width="1.9"/>
<line x1="210.24" y1="1478.8" x2="210.24" y2="1483.8" stroke="#000" stroke-width="1.9"/>
<line x1="294.93" y1="1478.8" x2="294.93" y2="1483.8" stroke="#000" stroke-width="1.9"/>
<line x1="379.61" y1="1478.8" x2="379.61" y2="1483.8" stroke="#000" stroke-width="1.9"/>
<line x1="464.31" y1="1478.8" x2="464.31" y2="1483.8" stroke="#000" stroke-width="1.9"/>
<line x1="549" y1="1478.8" x2="549" y2="1483.8" stroke="#000" stroke-width="1.9"/>
<line x1="633.69" y1="1478.8" x2="633.69" y2="1483.8" stroke="#000" stroke-width="1.9"/>
<text class="s" transform="translate(167.89 1508.8) scale(1 1.04)" font-size="20.5" text-anchor="middle" fill="#000">HJ</text>
<text class="s" transform="translate(252.58 1508.8) scale(1 1.04)" font-size="20.5" text-anchor="middle" fill="#000">JM</text>
<text class="s" transform="translate(337.27 1508.8) scale(1 1.04)" font-size="20.5" text-anchor="middle" fill="#000">DF</text>
<text class="s" transform="translate(421.96 1508.8) scale(1 1.04)" font-size="20.5" text-anchor="middle" fill="#000">IS</text>
<text class="s" transform="translate(506.65 1508.8) scale(1 1.04)" font-size="20.5" text-anchor="middle" fill="#000">SP</text>
<text class="s" transform="translate(591.34 1508.8) scale(1 1.04)" font-size="20.5" text-anchor="middle" fill="#000">CK</text>
<line x1="150.89" y1="1336.3" x2="150.89" y2="1350.9" stroke="#000" stroke-width="1.6"/>
<line x1="146.14" y1="1336.3" x2="155.64" y2="1336.3" stroke="#000" stroke-width="1.7"/>
<rect x="133.19" y="1349.9" width="35.5" height="128.9" fill="#000"/>
<rect x="169.04" y="1409.45" width="32.8" height="69.35" fill="url(#he)" stroke="#000" stroke-width="1.3"/>
<line x1="184.69" y1="1404" x2="184.69" y2="1414" stroke="#000" stroke-width="1.6"/>
<line x1="179.94" y1="1404" x2="189.44" y2="1404" stroke="#000" stroke-width="1.7"/>
<line x1="179.94" y1="1414" x2="189.44" y2="1414" stroke="#000" stroke-width="1.7"/>
<line x1="235.58" y1="1177.7" x2="235.58" y2="1213.1" stroke="#000" stroke-width="1.6"/>
<line x1="230.83" y1="1177.7" x2="240.33" y2="1177.7" stroke="#000" stroke-width="1.7"/>
<rect x="217.88" y="1212.1" width="35.5" height="266.7" fill="#000"/>
<rect x="253.73" y="1387.45" width="32.8" height="91.35" fill="url(#he)" stroke="#000" stroke-width="1.3"/>
<line x1="269.38" y1="1374" x2="269.38" y2="1400" stroke="#000" stroke-width="1.6"/>
<line x1="264.63" y1="1374" x2="274.13" y2="1374" stroke="#000" stroke-width="1.7"/>
<line x1="264.63" y1="1400" x2="274.13" y2="1400" stroke="#000" stroke-width="1.7"/>
<line x1="320.27" y1="1441.6" x2="320.27" y2="1450.5" stroke="#000" stroke-width="1.6"/>
<line x1="315.52" y1="1441.6" x2="325.02" y2="1441.6" stroke="#000" stroke-width="1.7"/>
<rect x="302.57" y="1449.5" width="35.5" height="29.3" fill="#000"/>
<rect x="338.42" y="1457.15" width="32.8" height="21.65" fill="url(#he)" stroke="#000" stroke-width="1.3"/>
<line x1="354.07" y1="1445.5" x2="354.07" y2="1467.5" stroke="#000" stroke-width="1.6"/>
<line x1="349.32" y1="1445.5" x2="358.82" y2="1445.5" stroke="#000" stroke-width="1.7"/>
<line x1="349.32" y1="1467.5" x2="358.82" y2="1467.5" stroke="#000" stroke-width="1.7"/>
<line x1="404.96" y1="1364.7" x2="404.96" y2="1376.6" stroke="#000" stroke-width="1.6"/>
<line x1="400.21" y1="1364.7" x2="409.71" y2="1364.7" stroke="#000" stroke-width="1.7"/>
<rect x="387.26" y="1375.6" width="35.5" height="103.2" fill="#000"/>
<rect x="423.11" y="1439.65" width="32.8" height="39.15" fill="url(#he)" stroke="#000" stroke-width="1.3"/>
<line x1="438.76" y1="1429.3" x2="438.76" y2="1448.1" stroke="#000" stroke-width="1.6"/>
<line x1="434.01" y1="1429.3" x2="443.51" y2="1429.3" stroke="#000" stroke-width="1.7"/>
<line x1="434.01" y1="1448.1" x2="443.51" y2="1448.1" stroke="#000" stroke-width="1.7"/>
<line x1="489.65" y1="1106.1" x2="489.65" y2="1119.2" stroke="#000" stroke-width="1.6"/>
<line x1="484.9" y1="1106.1" x2="494.4" y2="1106.1" stroke="#000" stroke-width="1.7"/>
<rect x="471.95" y="1118.2" width="35.5" height="4.4" fill="#000"/>
<rect x="471.95" y="1129.1" width="35.5" height="349.7" fill="#000"/>
<text class="s" transform="translate(148.7 1324.3) scale(1 1.04)" font-size="20.5" text-anchor="middle" fill="#000">B</text>
<text class="s" transform="translate(185.1 1391) scale(1 0.98)" font-size="20.5" text-anchor="middle" fill="#000">b</text>
<text class="s" transform="translate(234.8 1164.5) scale(1 1.04)" font-size="20.5" text-anchor="middle" fill="#000">A</text>
<text class="s" transform="translate(268.9 1361.6) scale(1 0.98)" font-size="20.5" text-anchor="middle" fill="#000">a</text>
<text class="s" transform="translate(320.3 1430.4) scale(1 1.04)" font-size="20.5" text-anchor="middle" fill="#000">C</text>
<text class="s" transform="translate(356 1434) scale(1 0.98)" font-size="20.5" text-anchor="middle" fill="#000">c</text>
<text class="s" transform="translate(406.3 1351.5) scale(1 1.04)" font-size="20.5" text-anchor="middle" fill="#000">B</text>
<text class="s" transform="translate(438.9 1416.8) scale(1 0.98)" font-size="20.5" text-anchor="middle" fill="#000">c</text>
<text class="s" transform="translate(575.4 1462.6) scale(1 1.04)" font-size="20.5" text-anchor="middle" fill="#000">C</text>
<text class="s" transform="translate(605.6 1463.2) scale(1 0.98)" font-size="20.5" text-anchor="middle" fill="#000">d</text>
<text class="r" x="511" y="1381.7" font-size="22.7" text-anchor="start" fill="#0a3ac8" font-weight="bold" word-spacing="3">Peach</text>
<text class="r" x="511" y="1409.5" font-size="22.7" text-anchor="start" fill="#0a3ac8" font-weight="bold" word-spacing="3">matured fruit</text>
<text class="r" x="117.8" y="1164.6" font-size="40.5" text-anchor="start" fill="#000" font-weight="bold">(e)</text>
<text class="s" font-size="20.8" text-anchor="middle" transform="translate(19.1 1272.45) rotate(-90) scale(1 1.02)" textLength="355.5" lengthAdjust="spacingAndGlyphs">Mean number of moths captured / trap</text>
<line x1="763" y1="1034.9" x2="763" y2="1118.7" stroke="#000" stroke-width="2"/>
<line x1="763" y1="1128.2" x2="763" y2="1478.2" stroke="#000" stroke-width="2"/>
<line x1="753.7" y1="1123.8" x2="771.7" y2="1116.9" stroke="#000" stroke-width="1.9"/>
<line x1="753.7" y1="1131.6" x2="771.7" y2="1123.8" stroke="#000" stroke-width="1.9"/>
<line x1="753.5" y1="1035.8" x2="763" y2="1035.8" stroke="#000" stroke-width="1.8"/>
<text class="s" transform="translate(748.4 1041.3) scale(1 1.04)" font-size="20.5" text-anchor="end" fill="#000">270</text>
<line x1="753.5" y1="1055.8" x2="763" y2="1055.8" stroke="#000" stroke-width="1.8"/>
<text class="s" transform="translate(748.4 1061.3) scale(1 1.04)" font-size="20.5" text-anchor="end" fill="#000">225</text>
<line x1="753.5" y1="1075.8" x2="763" y2="1075.8" stroke="#000" stroke-width="1.8"/>
<text class="s" transform="translate(748.4 1081.3) scale(1 1.04)" font-size="20.5" text-anchor="end" fill="#000">180</text>
<line x1="753.5" y1="1095.5" x2="763" y2="1095.5" stroke="#000" stroke-width="1.8"/>
<text class="s" transform="translate(748.4 1101) scale(1 1.04)" font-size="20.5" text-anchor="end" fill="#000">135</text>
<line x1="753.5" y1="1115.2" x2="763" y2="1115.2" stroke="#000" stroke-width="1.8"/>
<text class="s" transform="translate(748.4 1120.7) scale(1 1.04)" font-size="20.5" text-anchor="end" fill="#000">90</text>
<line x1="753.5" y1="1477.2" x2="763" y2="1477.2" stroke="#000" stroke-width="1.8"/>
<text class="s" transform="translate(748.4 1482.7) scale(1 1.04)" font-size="20.5" text-anchor="end" fill="#000">0</text>
<line x1="753.5" y1="1413.7" x2="763" y2="1413.7" stroke="#000" stroke-width="1.8"/>
<text class="s" transform="translate(748.4 1419.2) scale(1 1.04)" font-size="20.5" text-anchor="end" fill="#000">10</text>
<line x1="753.5" y1="1350.2" x2="763" y2="1350.2" stroke="#000" stroke-width="1.8"/>
<text class="s" transform="translate(748.4 1355.7) scale(1 1.04)" font-size="20.5" text-anchor="end" fill="#000">20</text>
<line x1="753.5" y1="1286.7" x2="763" y2="1286.7" stroke="#000" stroke-width="1.8"/>
<text class="s" transform="translate(748.4 1292.2) scale(1 1.04)" font-size="20.5" text-anchor="end" fill="#000">30</text>
<line x1="753.5" y1="1223.2" x2="763" y2="1223.2" stroke="#000" stroke-width="1.8"/>
<text class="s" transform="translate(748.4 1228.7) scale(1 1.04)" font-size="20.5" text-anchor="end" fill="#000">40</text>
<line x1="753.5" y1="1159.7" x2="763" y2="1159.7" stroke="#000" stroke-width="1.8"/>
<text class="s" transform="translate(748.4 1165.2) scale(1 1.04)" font-size="20.5" text-anchor="end" fill="#000">50</text>
<line x1="762" y1="1477.2" x2="1356.62" y2="1477.2" stroke="#000" stroke-width="2"/>
<line x1="763" y1="1477.2" x2="763" y2="1486.2" stroke="#000" stroke-width="1.9"/>
<line x1="847.66" y1="1477.2" x2="847.66" y2="1486.2" stroke="#000" stroke-width="1.9"/>
<line x1="932.32" y1="1477.2" x2="932.32" y2="1486.2" stroke="#000" stroke-width="1.9"/>
<line x1="1016.98" y1="1477.2" x2="1016.98" y2="1486.2" stroke="#000" stroke-width="1.9"/>
<line x1="1101.64" y1="1477.2" x2="1101.64" y2="1486.2" stroke="#000" stroke-width="1.9"/>
<line x1="1186.3" y1="1477.2" x2="1186.3" y2="1486.2" stroke="#000" stroke-width="1.9"/>
<line x1="1270.96" y1="1477.2" x2="1270.96" y2="1486.2" stroke="#000" stroke-width="1.9"/>
<line x1="1355.62" y1="1477.2" x2="1355.62" y2="1486.2" stroke="#000" stroke-width="1.9"/>
<line x1="805.33" y1="1477.2" x2="805.33" y2="1482.2" stroke="#000" stroke-width="1.9"/>
<line x1="889.99" y1="1477.2" x2="889.99" y2="1482.2" stroke="#000" stroke-width="1.9"/>
<line x1="974.65" y1="1477.2" x2="974.65" y2="1482.2" stroke="#000" stroke-width="1.9"/>
<line x1="1059.31" y1="1477.2" x2="1059.31" y2="1482.2" stroke="#000" stroke-width="1.9"/>
<line x1="1143.97" y1="1477.2" x2="1143.97" y2="1482.2" stroke="#000" stroke-width="1.9"/>
<line x1="1228.63" y1="1477.2" x2="1228.63" y2="1482.2" stroke="#000" stroke-width="1.9"/>
<line x1="1313.29" y1="1477.2" x2="1313.29" y2="1482.2" stroke="#000" stroke-width="1.9"/>
<text class="s" transform="translate(847.66 1507.2) scale(1 1.04)" font-size="20.5" text-anchor="middle" fill="#000">HJ</text>
<text class="s" transform="translate(932.32 1507.2) scale(1 1.04)" font-size="20.5" text-anchor="middle" fill="#000">JM</text>
<text class="s" transform="translate(1016.98 1507.2) scale(1 1.04)" font-size="20.5" text-anchor="middle" fill="#000">DF</text>
<text class="s" transform="translate(1101.64 1507.2) scale(1 1.04)" font-size="20.5" text-anchor="middle" fill="#000">IS</text>
<text class="s" transform="translate(1186.3 1507.2) scale(1 1.04)" font-size="20.5" text-anchor="middle" fill="#000">SP</text>
<text class="s" transform="translate(1270.96 1507.2) scale(1 1.04)" font-size="20.5" text-anchor="middle" fill="#000">CK</text>
<line x1="830.66" y1="1432.9" x2="830.66" y2="1441.5" stroke="#000" stroke-width="1.6"/>
<line x1="825.91" y1="1432.9" x2="835.41" y2="1432.9" stroke="#000" stroke-width="1.7"/>
<rect x="812.96" y="1440.5" width="35.5" height="36.7" fill="#000"/>
<rect x="848.81" y="1463.35" width="32.8" height="13.85" fill="url(#hf)" stroke="#000" stroke-width="1.3"/>
<line x1="864.46" y1="1456.9" x2="864.46" y2="1468.9" stroke="#000" stroke-width="1.6"/>
<line x1="859.71" y1="1456.9" x2="869.21" y2="1456.9" stroke="#000" stroke-width="1.7"/>
<line x1="859.71" y1="1468.9" x2="869.21" y2="1468.9" stroke="#000" stroke-width="1.7"/>
<line x1="915.32" y1="1433.3" x2="915.32" y2="1444.4" stroke="#000" stroke-width="1.6"/>
<line x1="910.57" y1="1433.3" x2="920.07" y2="1433.3" stroke="#000" stroke-width="1.7"/>
<rect x="897.62" y="1443.4" width="35.5" height="33.8" fill="#000"/>
<rect x="933.47" y="1455.35" width="32.8" height="21.85" fill="url(#hf)" stroke="#000" stroke-width="1.3"/>
<line x1="949.12" y1="1447" x2="949.12" y2="1462.9" stroke="#000" stroke-width="1.6"/>
<line x1="944.37" y1="1447" x2="953.87" y2="1447" stroke="#000" stroke-width="1.7"/>
<line x1="944.37" y1="1462.9" x2="953.87" y2="1462.9" stroke="#000" stroke-width="1.7"/>
<line x1="999.98" y1="1381" x2="999.98" y2="1387.5" stroke="#000" stroke-width="1.6"/>
<line x1="995.23" y1="1381" x2="1004.73" y2="1381" stroke="#000" stroke-width="1.7"/>
<rect x="982.28" y="1386.5" width="35.5" height="90.7" fill="#000"/>
<rect x="1018.13" y="1447.45" width="32.8" height="29.75" fill="url(#hf)" stroke="#000" stroke-width="1.3"/>
<line x1="1033.78" y1="1439.3" x2="1033.78" y2="1454.5" stroke="#000" stroke-width="1.6"/>
<line x1="1029.03" y1="1439.3" x2="1038.53" y2="1439.3" stroke="#000" stroke-width="1.7"/>
<line x1="1029.03" y1="1454.5" x2="1038.53" y2="1454.5" stroke="#000" stroke-width="1.7"/>
<line x1="1084.64" y1="1387.2" x2="1084.64" y2="1390.4" stroke="#000" stroke-width="1.6"/>
<line x1="1079.89" y1="1387.2" x2="1089.39" y2="1387.2" stroke="#000" stroke-width="1.7"/>
<rect x="1066.94" y="1389.4" width="35.5" height="87.8" fill="#000"/>
<rect x="1102.79" y="1444.65" width="32.8" height="32.55" fill="url(#hf)" stroke="#000" stroke-width="1.3"/>
<line x1="1118.44" y1="1436.1" x2="1118.44" y2="1451.9" stroke="#000" stroke-width="1.6"/>
<line x1="1113.69" y1="1436.1" x2="1123.19" y2="1436.1" stroke="#000" stroke-width="1.7"/>
<line x1="1113.69" y1="1451.9" x2="1123.19" y2="1451.9" stroke="#000" stroke-width="1.7"/>
<line x1="1169.3" y1="1113.6" x2="1169.3" y2="1117.5" stroke="#000" stroke-width="1.6"/>
<line x1="1164.55" y1="1113.6" x2="1174.05" y2="1113.6" stroke="#000" stroke-width="1.7"/>
<rect x="1151.6" y="1116.5" width="35.5" height="4.4" fill="#000"/>
<rect x="1151.6" y="1128.2" width="35.5" height="349" fill="#000"/>
<text class="s" transform="translate(830.9 1420.8) scale(1 1.04)" font-size="20.5" text-anchor="middle" fill="#000">B</text>
<text class="s" transform="translate(865.7 1447.2) scale(1 0.98)" font-size="20.5" text-anchor="middle" fill="#000">bc</text>
<text class="s" transform="translate(915 1421.8) scale(1 1.04)" font-size="20.5" text-anchor="middle" fill="#000">B</text>
<text class="s" transform="translate(948.7 1436.3) scale(1 0.98)" font-size="20.5" text-anchor="middle" fill="#000">ab</text>
<text class="s" transform="translate(1001 1369.2) scale(1 1.04)" font-size="20.5" text-anchor="middle" fill="#000">A</text>
<text class="s" transform="translate(1034 1426.7) scale(1 0.98)" font-size="20.5" text-anchor="middle" fill="#000">a</text>
<text class="s" transform="translate(1083.2 1372.8) scale(1 1.04)" font-size="20.5" text-anchor="middle" fill="#000">A</text>
<text class="s" transform="translate(1118.5 1426.5) scale(1 0.98)" font-size="20.5" text-anchor="middle" fill="#000">a</text>
<text class="s" transform="translate(1253 1469.8) scale(1 1.04)" font-size="20.5" text-anchor="middle" fill="#000">C</text>
<text class="s" transform="translate(1280.8 1470.4) scale(1 0.98)" font-size="20.5" text-anchor="middle" fill="#000">c</text>
<text class="r" x="1196.3" y="1380.6" font-size="22.7" text-anchor="start" fill="#ff0000" font-weight="bold" word-spacing="3">Pear</text>
<text class="r" x="1196.3" y="1409" font-size="22.7" text-anchor="start" fill="#ff0000" font-weight="bold" word-spacing="3">Unmatured fruit</text>
<text class="r" x="805.5" y="1126.7" font-size="40.5" text-anchor="start" fill="#000" font-weight="bold">(f)</text>
<text class="s" font-size="20.8" text-anchor="middle" transform="translate(698.9 1271.55) rotate(-90) scale(1 1.02)" textLength="355.5" lengthAdjust="spacingAndGlyphs">Mean number of moths captured / trap</text>
<line x1="82.4" y1="1549.5" x2="82.4" y2="1633.3" stroke="#000" stroke-width="2"/>
<line x1="82.4" y1="1641.3" x2="82.4" y2="1992" stroke="#000" stroke-width="2"/>
<line x1="73.1" y1="1638.6" x2="91.1" y2="1630.6" stroke="#000" stroke-width="1.9"/>
<line x1="73.1" y1="1645.6" x2="91.1" y2="1638.3" stroke="#000" stroke-width="1.9"/>
<line x1="72.9" y1="1550.4" x2="82.4" y2="1550.4" stroke="#000" stroke-width="1.8"/>
<text class="s" transform="translate(67.8 1555.9) scale(1 1.04)" font-size="20.5" text-anchor="end" fill="#000">270</text>
<line x1="72.9" y1="1575.2" x2="82.4" y2="1575.2" stroke="#000" stroke-width="1.8"/>
<text class="s" transform="translate(67.8 1580.7) scale(1 1.04)" font-size="20.5" text-anchor="end" fill="#000">240</text>
<line x1="72.9" y1="1600.8" x2="82.4" y2="1600.8" stroke="#000" stroke-width="1.8"/>
<text class="s" transform="translate(67.8 1606.3) scale(1 1.04)" font-size="20.5" text-anchor="end" fill="#000">210</text>
<line x1="72.9" y1="1626.2" x2="82.4" y2="1626.2" stroke="#000" stroke-width="1.8"/>
<text class="s" transform="translate(67.8 1631.7) scale(1 1.04)" font-size="20.5" text-anchor="end" fill="#000">180</text>
<line x1="72.9" y1="1991" x2="82.4" y2="1991" stroke="#000" stroke-width="1.8"/>
<text class="s" transform="translate(67.8 1996.5) scale(1 1.04)" font-size="20.5" text-anchor="end" fill="#000">0</text>
<line x1="72.9" y1="1927.5" x2="82.4" y2="1927.5" stroke="#000" stroke-width="1.8"/>
<text class="s" transform="translate(67.8 1933) scale(1 1.04)" font-size="20.5" text-anchor="end" fill="#000">10</text>
<line x1="72.9" y1="1864" x2="82.4" y2="1864" stroke="#000" stroke-width="1.8"/>
<text class="s" transform="translate(67.8 1869.5) scale(1 1.04)" font-size="20.5" text-anchor="end" fill="#000">20</text>
<line x1="72.9" y1="1800.5" x2="82.4" y2="1800.5" stroke="#000" stroke-width="1.8"/>
<text class="s" transform="translate(67.8 1806) scale(1 1.04)" font-size="20.5" text-anchor="end" fill="#000">30</text>
<line x1="72.9" y1="1737" x2="82.4" y2="1737" stroke="#000" stroke-width="1.8"/>
<text class="s" transform="translate(67.8 1742.5) scale(1 1.04)" font-size="20.5" text-anchor="end" fill="#000">40</text>
<line x1="72.9" y1="1673.5" x2="82.4" y2="1673.5" stroke="#000" stroke-width="1.8"/>
<text class="s" transform="translate(67.8 1679) scale(1 1.04)" font-size="20.5" text-anchor="end" fill="#000">50</text>
<line x1="81.4" y1="1991" x2="676.09" y2="1991" stroke="#000" stroke-width="2"/>
<line x1="82.4" y1="1991" x2="82.4" y2="2000" stroke="#000" stroke-width="1.9"/>
<line x1="167.07" y1="1991" x2="167.07" y2="2000" stroke="#000" stroke-width="1.9"/>
<line x1="251.74" y1="1991" x2="251.74" y2="2000" stroke="#000" stroke-width="1.9"/>
<line x1="336.41" y1="1991" x2="336.41" y2="2000" stroke="#000" stroke-width="1.9"/>
<line x1="421.08" y1="1991" x2="421.08" y2="2000" stroke="#000" stroke-width="1.9"/>
<line x1="505.75" y1="1991" x2="505.75" y2="2000" stroke="#000" stroke-width="1.9"/>
<line x1="590.42" y1="1991" x2="590.42" y2="2000" stroke="#000" stroke-width="1.9"/>
<line x1="675.09" y1="1991" x2="675.09" y2="2000" stroke="#000" stroke-width="1.9"/>
<line x1="124.74" y1="1991" x2="124.74" y2="1996" stroke="#000" stroke-width="1.9"/>
<line x1="209.41" y1="1991" x2="209.41" y2="1996" stroke="#000" stroke-width="1.9"/>
<line x1="294.08" y1="1991" x2="294.08" y2="1996" stroke="#000" stroke-width="1.9"/>
<line x1="378.75" y1="1991" x2="378.75" y2="1996" stroke="#000" stroke-width="1.9"/>
<line x1="463.41" y1="1991" x2="463.41" y2="1996" stroke="#000" stroke-width="1.9"/>
<line x1="548.09" y1="1991" x2="548.09" y2="1996" stroke="#000" stroke-width="1.9"/>
<line x1="632.75" y1="1991" x2="632.75" y2="1996" stroke="#000" stroke-width="1.9"/>
<text class="s" transform="translate(167.07 2021) scale(1 1.04)" font-size="20.5" text-anchor="middle" fill="#000">HJ</text>
<text class="s" transform="translate(251.74 2021) scale(1 1.04)" font-size="20.5" text-anchor="middle" fill="#000">JM</text>
<text class="s" transform="translate(336.41 2021) scale(1 1.04)" font-size="20.5" text-anchor="middle" fill="#000">DF</text>
<text class="s" transform="translate(421.08 2021) scale(1 1.04)" font-size="20.5" text-anchor="middle" fill="#000">IS</text>
<text class="s" transform="translate(505.75 2021) scale(1 1.04)" font-size="20.5" text-anchor="middle" fill="#000">SP</text>
<text class="s" transform="translate(590.42 2021) scale(1 1.04)" font-size="20.5" text-anchor="middle" fill="#000">CK</text>
<line x1="150.07" y1="1986.1" x2="150.07" y2="1989.5" stroke="#000" stroke-width="1.6"/>
<line x1="145.32" y1="1986.1" x2="154.82" y2="1986.1" stroke="#000" stroke-width="1.7"/>
<rect x="132.37" y="1988.5" width="35.5" height="2.5" fill="#000"/>
<line x1="234.74" y1="1980.1" x2="234.74" y2="1986.7" stroke="#000" stroke-width="1.6"/>
<line x1="229.99" y1="1980.1" x2="239.49" y2="1980.1" stroke="#000" stroke-width="1.7"/>
<rect x="217.04" y="1985.7" width="35.5" height="5.3" fill="#000"/>
<line x1="319.41" y1="1985.7" x2="319.41" y2="1989.7" stroke="#000" stroke-width="1.6"/>
<line x1="314.66" y1="1985.7" x2="324.16" y2="1985.7" stroke="#000" stroke-width="1.7"/>
<rect x="301.71" y="1988.7" width="35.5" height="2.3" fill="#000"/>
<line x1="488.75" y1="1916.6" x2="488.75" y2="1939" stroke="#000" stroke-width="1.6"/>
<line x1="484" y1="1916.6" x2="493.5" y2="1916.6" stroke="#000" stroke-width="1.7"/>
<rect x="471.05" y="1938" width="35.5" height="53" fill="#000"/>
<text class="s" transform="translate(150.1 1973.7) scale(1 1.04)" font-size="20.5" text-anchor="middle" fill="#000">A</text>
<text class="s" transform="translate(182.1 1983.7) scale(1 0.98)" font-size="20.5" text-anchor="middle" fill="#000">a</text>
<text class="s" transform="translate(233.2 1966.7) scale(1 1.04)" font-size="20.5" text-anchor="middle" fill="#000">A</text>
<text class="s" transform="translate(267.7 1979.7) scale(1 0.98)" font-size="20.5" text-anchor="middle" fill="#000">a</text>
<text class="s" transform="translate(319.3 1974.5) scale(1 1.04)" font-size="20.5" text-anchor="middle" fill="#000">A</text>
<text class="s" transform="translate(350.8 1979.7) scale(1 0.98)" font-size="20.5" text-anchor="middle" fill="#000">a</text>
<text class="s" transform="translate(407.1 1977.5) scale(1 1.04)" font-size="20.5" text-anchor="middle" fill="#000">A</text>
<text class="s" transform="translate(436 1978.7) scale(1 0.98)" font-size="20.5" text-anchor="middle" fill="#000">a</text>
<text class="s" transform="translate(574 1977.5) scale(1 1.04)" font-size="20.5" text-anchor="middle" fill="#000">A</text>
<text class="s" transform="translate(606.9 1978.1) scale(1 0.98)" font-size="20.5" text-anchor="middle" fill="#000">a</text>
<text class="r" x="507.1" y="1895.2" font-size="22.7" text-anchor="start" fill="#0a3ac8" font-weight="bold" word-spacing="3">Peach</text>
<text class="r" x="507.1" y="1922.4" font-size="22.7" text-anchor="start" fill="#0a3ac8" font-weight="bold" word-spacing="3">Harvest</text>
<text class="r" x="118.6" y="1676.8" font-size="40.5" text-anchor="start" fill="#000" font-weight="bold">(g)</text>
<text class="s" font-size="20.8" text-anchor="middle" transform="translate(17.9 1784.55) rotate(-90) scale(1 1.02)" textLength="355.5" lengthAdjust="spacingAndGlyphs">Mean number of moths captured / trap</text>
<line x1="762.7" y1="1548.2" x2="762.7" y2="1632" stroke="#000" stroke-width="2"/>
<line x1="762.7" y1="1640" x2="762.7" y2="1990.7" stroke="#000" stroke-width="2"/>
<line x1="753.4" y1="1637.3" x2="771.4" y2="1629.3" stroke="#000" stroke-width="1.9"/>
<line x1="753.4" y1="1644.3" x2="771.4" y2="1637" stroke="#000" stroke-width="1.9"/>
<line x1="753.2" y1="1549.1" x2="762.7" y2="1549.1" stroke="#000" stroke-width="1.8"/>
<text class="s" transform="translate(748.1 1554.6) scale(1 1.04)" font-size="20.5" text-anchor="end" fill="#000">270</text>
<line x1="753.2" y1="1573.9" x2="762.7" y2="1573.9" stroke="#000" stroke-width="1.8"/>
<text class="s" transform="translate(748.1 1579.4) scale(1 1.04)" font-size="20.5" text-anchor="end" fill="#000">240</text>
<line x1="753.2" y1="1599.5" x2="762.7" y2="1599.5" stroke="#000" stroke-width="1.8"/>
<text class="s" transform="translate(748.1 1605) scale(1 1.04)" font-size="20.5" text-anchor="end" fill="#000">210</text>
<line x1="753.2" y1="1624.9" x2="762.7" y2="1624.9" stroke="#000" stroke-width="1.8"/>
<text class="s" transform="translate(748.1 1630.4) scale(1 1.04)" font-size="20.5" text-anchor="end" fill="#000">180</text>
<line x1="753.2" y1="1989.7" x2="762.7" y2="1989.7" stroke="#000" stroke-width="1.8"/>
<text class="s" transform="translate(748.1 1995.2) scale(1 1.04)" font-size="20.5" text-anchor="end" fill="#000">0</text>
<line x1="753.2" y1="1926.2" x2="762.7" y2="1926.2" stroke="#000" stroke-width="1.8"/>
<text class="s" transform="translate(748.1 1931.7) scale(1 1.04)" font-size="20.5" text-anchor="end" fill="#000">10</text>
<line x1="753.2" y1="1862.7" x2="762.7" y2="1862.7" stroke="#000" stroke-width="1.8"/>
<text class="s" transform="translate(748.1 1868.2) scale(1 1.04)" font-size="20.5" text-anchor="end" fill="#000">20</text>
<line x1="753.2" y1="1799.2" x2="762.7" y2="1799.2" stroke="#000" stroke-width="1.8"/>
<text class="s" transform="translate(748.1 1804.7) scale(1 1.04)" font-size="20.5" text-anchor="end" fill="#000">30</text>
<line x1="753.2" y1="1735.7" x2="762.7" y2="1735.7" stroke="#000" stroke-width="1.8"/>
<text class="s" transform="translate(748.1 1741.2) scale(1 1.04)" font-size="20.5" text-anchor="end" fill="#000">40</text>
<line x1="753.2" y1="1672.2" x2="762.7" y2="1672.2" stroke="#000" stroke-width="1.8"/>
<text class="s" transform="translate(748.1 1677.7) scale(1 1.04)" font-size="20.5" text-anchor="end" fill="#000">50</text>
<line x1="761.7" y1="1989.7" x2="1356.11" y2="1989.7" stroke="#000" stroke-width="2"/>
<line x1="762.7" y1="1989.7" x2="762.7" y2="1998.7" stroke="#000" stroke-width="1.9"/>
<line x1="847.33" y1="1989.7" x2="847.33" y2="1998.7" stroke="#000" stroke-width="1.9"/>
<line x1="931.96" y1="1989.7" x2="931.96" y2="1998.7" stroke="#000" stroke-width="1.9"/>
<line x1="1016.59" y1="1989.7" x2="1016.59" y2="1998.7" stroke="#000" stroke-width="1.9"/>
<line x1="1101.22" y1="1989.7" x2="1101.22" y2="1998.7" stroke="#000" stroke-width="1.9"/>
<line x1="1185.85" y1="1989.7" x2="1185.85" y2="1998.7" stroke="#000" stroke-width="1.9"/>
<line x1="1270.48" y1="1989.7" x2="1270.48" y2="1998.7" stroke="#000" stroke-width="1.9"/>
<line x1="1355.11" y1="1989.7" x2="1355.11" y2="1998.7" stroke="#000" stroke-width="1.9"/>
<line x1="805.02" y1="1989.7" x2="805.02" y2="1994.7" stroke="#000" stroke-width="1.9"/>
<line x1="889.64" y1="1989.7" x2="889.64" y2="1994.7" stroke="#000" stroke-width="1.9"/>
<line x1="974.28" y1="1989.7" x2="974.28" y2="1994.7" stroke="#000" stroke-width="1.9"/>
<line x1="1058.9" y1="1989.7" x2="1058.9" y2="1994.7" stroke="#000" stroke-width="1.9"/>
<line x1="1143.54" y1="1989.7" x2="1143.54" y2="1994.7" stroke="#000" stroke-width="1.9"/>
<line x1="1228.16" y1="1989.7" x2="1228.16" y2="1994.7" stroke="#000" stroke-width="1.9"/>
<line x1="1312.8" y1="1989.7" x2="1312.8" y2="1994.7" stroke="#000" stroke-width="1.9"/>
<text class="s" transform="translate(847.33 2019.7) scale(1 1.04)" font-size="20.5" text-anchor="middle" fill="#000">HJ</text>
<text class="s" transform="translate(931.96 2019.7) scale(1 1.04)" font-size="20.5" text-anchor="middle" fill="#000">JM</text>
<text class="s" transform="translate(1016.59 2019.7) scale(1 1.04)" font-size="20.5" text-anchor="middle" fill="#000">DF</text>
<text class="s" transform="translate(1101.22 2019.7) scale(1 1.04)" font-size="20.5" text-anchor="middle" fill="#000">IS</text>
<text class="s" transform="translate(1185.85 2019.7) scale(1 1.04)" font-size="20.5" text-anchor="middle" fill="#000">SP</text>
<text class="s" transform="translate(1270.48 2019.7) scale(1 1.04)" font-size="20.5" text-anchor="middle" fill="#000">CK</text>
<line x1="830.33" y1="1896" x2="830.33" y2="1908.1" stroke="#000" stroke-width="1.6"/>
<line x1="825.58" y1="1896" x2="835.08" y2="1896" stroke="#000" stroke-width="1.7"/>
<rect x="812.63" y="1907.1" width="35.5" height="82.6" fill="#000"/>
<rect x="848.48" y="1952.15" width="32.8" height="37.55" fill="url(#hh)" stroke="#000" stroke-width="1.3"/>
<line x1="864.13" y1="1946.3" x2="864.13" y2="1956.6" stroke="#000" stroke-width="1.6"/>
<line x1="859.38" y1="1946.3" x2="868.88" y2="1946.3" stroke="#000" stroke-width="1.7"/>
<line x1="859.38" y1="1956.6" x2="868.88" y2="1956.6" stroke="#000" stroke-width="1.7"/>
<line x1="914.96" y1="1899.4" x2="914.96" y2="1916.3" stroke="#000" stroke-width="1.6"/>
<line x1="910.21" y1="1899.4" x2="919.71" y2="1899.4" stroke="#000" stroke-width="1.7"/>
<rect x="897.26" y="1915.3" width="35.5" height="74.4" fill="#000"/>
<rect x="933.11" y="1940.85" width="32.8" height="48.85" fill="url(#hh)" stroke="#000" stroke-width="1.3"/>
<line x1="948.76" y1="1934.7" x2="948.76" y2="1945.8" stroke="#000" stroke-width="1.6"/>
<line x1="944.01" y1="1934.7" x2="953.51" y2="1934.7" stroke="#000" stroke-width="1.7"/>
<line x1="944.01" y1="1945.8" x2="953.51" y2="1945.8" stroke="#000" stroke-width="1.7"/>
<line x1="999.59" y1="1795.6" x2="999.59" y2="1817.7" stroke="#000" stroke-width="1.6"/>
<line x1="994.84" y1="1795.6" x2="1004.34" y2="1795.6" stroke="#000" stroke-width="1.7"/>
<rect x="981.89" y="1816.7" width="35.5" height="173" fill="#000"/>
<rect x="1017.74" y="1928.35" width="32.8" height="61.35" fill="url(#hh)" stroke="#000" stroke-width="1.3"/>
<line x1="1033.39" y1="1916.9" x2="1033.39" y2="1938.3" stroke="#000" stroke-width="1.6"/>
<line x1="1028.64" y1="1916.9" x2="1038.14" y2="1916.9" stroke="#000" stroke-width="1.7"/>
<line x1="1028.64" y1="1938.3" x2="1038.14" y2="1938.3" stroke="#000" stroke-width="1.7"/>
<line x1="1084.22" y1="1820.6" x2="1084.22" y2="1857.1" stroke="#000" stroke-width="1.6"/>
<line x1="1079.47" y1="1820.6" x2="1088.97" y2="1820.6" stroke="#000" stroke-width="1.7"/>
<rect x="1066.52" y="1856.1" width="35.5" height="133.6" fill="#000"/>
<rect x="1102.37" y="1929.95" width="32.8" height="59.75" fill="url(#hh)" stroke="#000" stroke-width="1.3"/>
<line x1="1118.02" y1="1914.8" x2="1118.02" y2="1944.7" stroke="#000" stroke-width="1.6"/>
<line x1="1113.27" y1="1914.8" x2="1122.77" y2="1914.8" stroke="#000" stroke-width="1.7"/>
<line x1="1113.27" y1="1944.7" x2="1122.77" y2="1944.7" stroke="#000" stroke-width="1.7"/>
<line x1="1168.85" y1="1562.7" x2="1168.85" y2="1578.2" stroke="#000" stroke-width="1.6"/>
<line x1="1164.1" y1="1562.7" x2="1173.6" y2="1562.7" stroke="#000" stroke-width="1.7"/>
<rect x="1151.15" y="1577.2" width="35.5" height="56.6" fill="#000"/>
<rect x="1151.15" y="1640.5" width="35.5" height="349.2" fill="#000"/>
<text class="s" transform="translate(829.2 1882.6) scale(1 1.04)" font-size="20.5" text-anchor="middle" fill="#000">B</text>
<text class="s" transform="translate(862.9 1934.1) scale(1 0.98)" font-size="20.5" text-anchor="middle" fill="#000">b</text>
<text class="s" transform="translate(915 1885.5) scale(1 1.04)" font-size="20.5" text-anchor="middle" fill="#000">B</text>
<text class="s" transform="translate(947.9 1921.6) scale(1 0.98)" font-size="20.5" text-anchor="middle" fill="#000">ab</text>
<text class="s" transform="translate(997.2 1784) scale(1 1.04)" font-size="20.5" text-anchor="middle" fill="#000">A</text>
<text class="s" transform="translate(1032.8 1904.8) scale(1 0.98)" font-size="20.5" text-anchor="middle" fill="#000">a</text>
<text class="s" transform="translate(1085.2 1806.4) scale(1 1.04)" font-size="20.5" text-anchor="middle" fill="#000">A</text>
<text class="s" transform="translate(1119.1 1899.2) scale(1 0.98)" font-size="20.5" text-anchor="middle" fill="#000">a</text>
<text class="s" transform="translate(1259.4 1979.8) scale(1 1.04)" font-size="20.5" text-anchor="middle" fill="#000">C</text>
<text class="s" transform="translate(1289.3 1980.4) scale(1 0.98)" font-size="20.5" text-anchor="middle" fill="#000">c</text>
<text class="r" x="1193.3" y="1896.7" font-size="22.7" text-anchor="start" fill="#ff0000" font-weight="bold" word-spacing="3">Pear</text>
<text class="r" x="1193.3" y="1924.6" font-size="22.7" text-anchor="start" fill="#ff0000" font-weight="bold" word-spacing="3">matured fruit</text>
<text class="r" x="805.4" y="1676.6" font-size="40.5" text-anchor="start" fill="#000" font-weight="bold">(h)</text>
<text class="s" font-size="20.8" text-anchor="middle" transform="translate(698.9 1783.45) rotate(-90) scale(1 1.02)" textLength="355.5" lengthAdjust="spacingAndGlyphs">Mean number of moths captured / trap</text>
<rect x="95.65" y="15.45" width="139.4" height="56" fill="#fff" stroke="#111" stroke-width="1.3"/>
<rect x="105.5" y="22.5" width="46.4" height="18.3" fill="#000" rx="0.8"/>
<rect x="106.15" y="48.85" width="45.1" height="17.1" fill="url(#hl)" stroke="#000" stroke-width="1.3"/>
<text class="s" transform="translate(158.6 38.8) scale(1 0.98)" font-size="20.5" text-anchor="start" fill="#000">male</text>
<text class="s" transform="translate(158.1 63.6) scale(1 0.98)" font-size="20.5" text-anchor="start" fill="#000" letter-spacing="0.25">female</text>
<rect x="778.95" y="15.85" width="133.1" height="54.1" fill="#fff" stroke="#111" stroke-width="1.3"/>
<rect x="786.2" y="22" width="46.7" height="18" fill="#000" rx="0.8"/>
<rect x="786.85" y="48.15" width="45.4" height="16.8" fill="url(#hl)" stroke="#000" stroke-width="1.3"/>
<text class="s" transform="translate(839.6 37.8) scale(1 0.98)" font-size="20.5" text-anchor="start" fill="#000">male</text>
<text class="s" transform="translate(839.1 63.6) scale(1 0.98)" font-size="20.5" text-anchor="start" fill="#000" letter-spacing="0.25">female</text>
<text class="r" x="1392.7" y="461.1" font-size="23" text-anchor="start" fill="#000" font-weight="bold">5-18, Jun.</text>
<text class="r" x="1391.9" y="970.1" font-size="23" text-anchor="start" fill="#000" font-weight="bold">8-21, Jul.</text>
<text class="r" x="1393.9" y="1482.9" font-size="23" text-anchor="start" fill="#000" font-weight="bold">6-19, Aug.</text>
<text class="r" x="1393.9" y="1997.7" font-size="23" text-anchor="start" fill="#000" font-weight="bold">6-19, Sep.</text>
<line x1="80" y1="490.1" x2="1498" y2="490.1" stroke="#00b050" stroke-width="3" stroke-dasharray="10.1 7.23"/>
<line x1="78.6" y1="1000.5" x2="1498" y2="1000.5" stroke="#00b050" stroke-width="3" stroke-dasharray="10.1 7.23"/>
<line x1="81" y1="1512" x2="1498" y2="1512" stroke="#00b050" stroke-width="3" stroke-dasharray="10.1 7.23"/>
<line x1="81.2" y1="2025.6" x2="1498" y2="2025.6" stroke="#00b050" stroke-width="3" stroke-dasharray="10.1 7.23"/>
</svg></body></html>
